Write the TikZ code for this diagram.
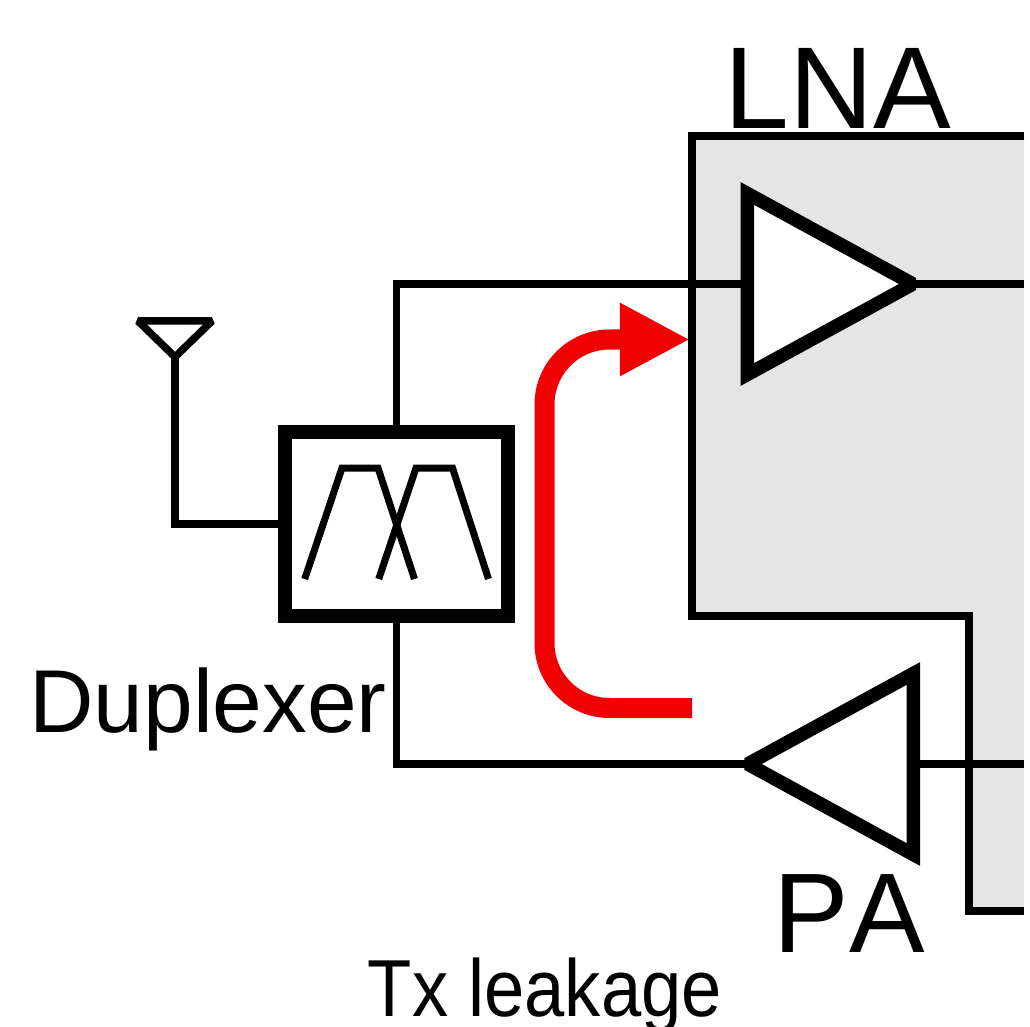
\documentclass[tikz,border=0pt]{standalone}
\usepackage{fontspec}
\setmainfont{Liberation Sans}[Kerning=Off]
\usetikzlibrary{arrows.meta, positioning, shapes.geometric}
\definecolor{blockgrey}{RGB}{229,229,229}
\definecolor{leakred}{RGB}{240,0,0}

\begin{document}
\begin{tikzpicture}[
  x=0.01cm, y=-0.01cm,
  wire/.style={draw, line width=0.075cm, line cap=butt},
  amp/.style={isosceles triangle, isosceles triangle stretches, draw, fill=white, line width=0.135cm, minimum width=1.81cm, minimum height=1.656cm, inner sep=0, outer sep=0, miter limit=2},
  leak/.style={draw=leakred, line width=0.2cm, rounded corners=0.65cm, -{Triangle[length=0.7cm, width=0.68cm]}},
  lbl/.style={inner sep=0, outer sep=0, anchor=base}
]
\useasboundingbox (0,0) rectangle (1030,1027);
\fill[blockgrey] (1024,136) -- (692,136) -- (692,616) -- (969,616) -- (969,911) -- (1024,911) -- cycle;
\draw[wire] (1024,136) -- (692,136) -- (692,616) -- (969,616) -- (969,911) -- (1024,911);
\node[lbl, font=\fontsize{33.1}{38}\selectfont] (lnatext) at (838,128) {LNA};
\node[lbl, font=\fontsize{32.2}{38}\selectfont] (patext) at (849,952.7) {PA};
\node[lbl, font=\fontsize{25.4}{30}\selectfont] (duptext) at (208,732.5) {Duplexer};
\node[lbl, font=\fontsize{23}{26}\selectfont] (leaktext) at (545,1016) {\scalebox{0.895}[1]{Tx leakage}};
\coordinate (leakin) at (692,708);
\coordinate (leakout) at (690,339.5);
\draw[leak] (leakin) -- (544.5,708) -- (544.5,339.5) -- (leakout);
\node[amp, anchor=apex] (lna) at (913,284) {};
\node[amp, anchor=apex, shape border rotate=180] (pa) at (747.7,764) {};
\node[draw, line width=0.14cm, minimum width=2.22cm, minimum height=1.84cm, outer sep=0] (dup) at (396.5,524) {};
\node[isosceles triangle, draw, line width=0.075cm, shape border rotate=-90, isosceles triangle stretches, minimum width=0.74cm, minimum height=0.36cm, inner sep=0, outer sep=0, miter limit=2, anchor=apex] (ant) at (175,357) {};
\coordinate (lnaout) at (1024,284);
\coordinate (paout) at (1024,764);
\draw[wire] (ant.apex) |- (dup.west);
\draw[wire] (dup.north) |- (lna.west);
\draw[wire] (dup.south) |- (pa.apex);
\draw[wire] (lna.apex) -- (lnaout);
\draw[wire] (pa.east) -- (paout);
\draw[wire, line width=0.07cm] (304.7,579) -- (342,468) -- (378,468) -- (414.5,579);
\draw[wire, line width=0.07cm] (378.7,579) -- (416,468) -- (452.5,468) -- (488.5,579);
\end{tikzpicture}
\end{document}
